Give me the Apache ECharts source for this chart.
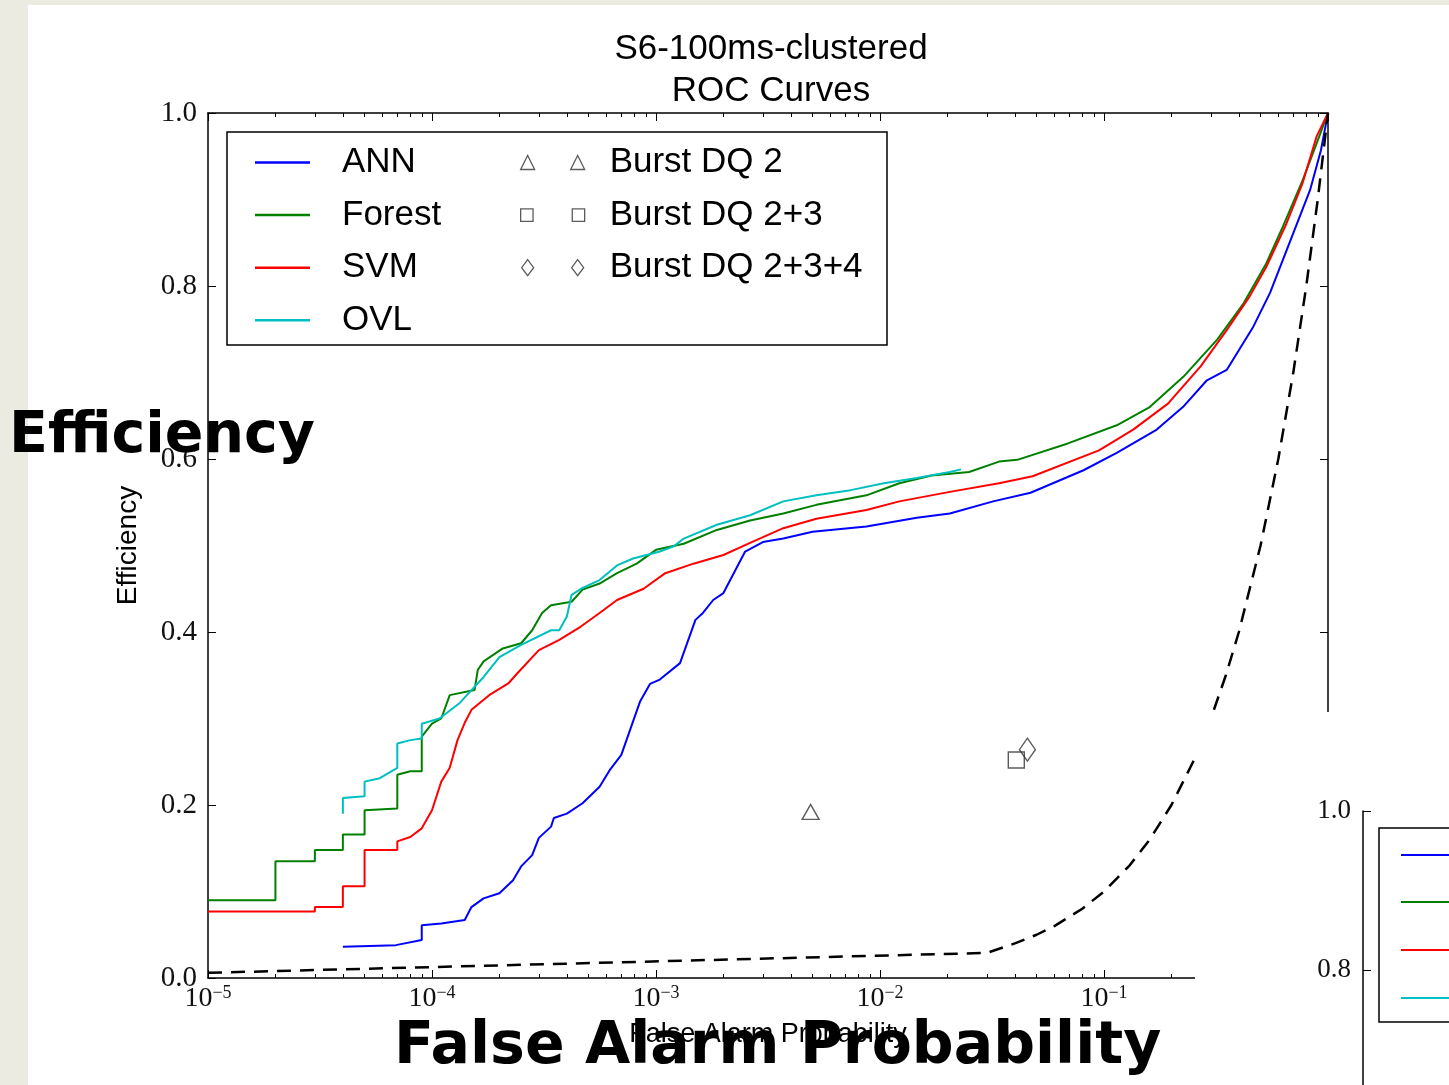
<!DOCTYPE html>
<html>
<head>
<meta charset="utf-8">
<script src="https://cdn.jsdelivr.net/npm/echarts@6/dist/echarts.min.js"></script>
<style>
  body { margin: 0; background: #ecebe1; }
  #card { position: absolute; left: 28px; top: 5px; width: 1421px; height: 1080px; background: #fff; }
  #main { position: absolute; left: 0; top: 0; width: 1449px; height: 1085px; }
</style>
</head>
<body>
<div id="card"></div>
<div id="main"></div>
<script>
// ROC curves: [false alarm probability, efficiency]
var ann = [[4.0e-5,0.036],[6.9e-5,0.038],[7.0e-5,0.040],[9.0e-5,0.044],[9.0e-5,0.061],[1.1e-4,0.063],[1.4e-4,0.067],
  [1.5e-4,0.082],[1.7e-4,0.092],[2.0e-4,0.098],[2.3e-4,0.113],[2.5e-4,0.129],[2.8e-4,0.142],[3.0e-4,0.162],
  [3.4e-4,0.175],[3.5e-4,0.185],[4.0e-4,0.19],[4.7e-4,0.202],[5.6e-4,0.221],[6.2e-4,0.24],[7.0e-4,0.258],
  [8.5e-4,0.32],[9.4e-4,0.34],[1.04e-3,0.345],[1.28e-3,0.364],[1.5e-3,0.414],[1.62e-3,0.422],[1.8e-3,0.437],
  [2.0e-3,0.445],[2.5e-3,0.493],[3.0e-3,0.504],[3.7e-3,0.508],[5.0e-3,0.516],[8.7e-3,0.522],[1.46e-2,0.532],
  [2.05e-2,0.537],[3.2e-2,0.551],[4.7e-2,0.561],[8.1e-2,0.587],[0.114,0.607],[0.172,0.634],[0.225,0.66],
  [0.288,0.691],[0.353,0.703],[0.464,0.753],[0.551,0.792],[0.70,0.861],[0.832,0.911],[0.93,0.957],[1.0,1.0]];
var forest = [[1e-5,0.09],[2.0e-5,0.09],[2.0e-5,0.135],[3.0e-5,0.135],[3.0e-5,0.148],[4.0e-5,0.148],[4.0e-5,0.166],
  [5.0e-5,0.166],[5.0e-5,0.194],[7.0e-5,0.196],[7.0e-5,0.235],[8.0e-5,0.239],[9.0e-5,0.239],[9.0e-5,0.279],
  [1.0e-4,0.294],[1.1e-4,0.3],[1.2e-4,0.327],[1.55e-4,0.333],[1.6e-4,0.356],[1.7e-4,0.366],[2.07e-4,0.381],
  [2.5e-4,0.387],[2.8e-4,0.402],[3.1e-4,0.422],[3.4e-4,0.431],[4.2e-4,0.435],[4.7e-4,0.449],[5.6e-4,0.456],
  [6.7e-4,0.468],[8.2e-4,0.479],[1.0e-3,0.495],[1.33e-3,0.502],[1.87e-3,0.518],[2.63e-3,0.529],[3.7e-3,0.537],
  [5.2e-3,0.547],[8.7e-3,0.558],[1.22e-2,0.572],[1.7e-2,0.581],[2.5e-2,0.585],[3.4e-2,0.597],[4.1e-2,0.599],
  [6.9e-2,0.618],[0.114,0.639],[0.16,0.66],[0.226,0.695],[0.32,0.738],[0.42,0.78],[0.53,0.826],[0.62,0.865],
  [0.77,0.922],[0.89,0.965],[1.0,1.0]];
var svm = [[1e-5,0.077],[3.0e-5,0.077],[3.0e-5,0.082],[4.0e-5,0.082],[4.0e-5,0.106],[5.0e-5,0.106],[5.0e-5,0.148],
  [7.0e-5,0.148],[7.0e-5,0.158],[8.0e-5,0.163],[9.0e-5,0.173],[1.0e-4,0.194],[1.1e-4,0.227],[1.2e-4,0.243],
  [1.3e-4,0.275],[1.4e-4,0.295],[1.5e-4,0.31],[1.8e-4,0.327],[2.2e-4,0.341],[2.4e-4,0.352],[3.0e-4,0.379],
  [3.7e-4,0.391],[4.6e-4,0.406],[5.6e-4,0.422],[6.7e-4,0.437],[8.8e-4,0.45],[1.1e-3,0.468],[1.47e-3,0.479],
  [2.0e-3,0.489],[2.63e-3,0.503],[3.7e-3,0.52],[5.2e-3,0.531],[8.7e-3,0.541],[1.22e-2,0.551],[2.05e-2,0.562],
  [3.4e-2,0.572],[4.8e-2,0.58],[0.095,0.61],[0.135,0.634],[0.193,0.664],[0.27,0.707],[0.353,0.749],
  [0.447,0.788],[0.53,0.822],[0.652,0.872],[0.77,0.919],[0.89,0.973],[1.0,1.0]];
var ovl = [[4.0e-5,0.19],[4.0e-5,0.208],[5.0e-5,0.21],[5.0e-5,0.227],[5.85e-5,0.231],[7.0e-5,0.243],[7.0e-5,0.271],
  [8.0e-5,0.275],[9.0e-5,0.277],[9.0e-5,0.294],[1.08e-4,0.3],[1.33e-4,0.318],[1.7e-4,0.348],[2.0e-4,0.371],
  [2.5e-4,0.385],[3.4e-4,0.402],[3.7e-4,0.402],[4.0e-4,0.418],[4.2e-4,0.443],[4.7e-4,0.451],[5.6e-4,0.46],
  [6.7e-4,0.477],[7.9e-4,0.485],[1.04e-3,0.493],[1.2e-3,0.499],[1.33e-3,0.508],[1.87e-3,0.524],[2.63e-3,0.535],
  [3.7e-3,0.551],[5.2e-3,0.558],[7.4e-3,0.564],[1.04e-2,0.572],[1.46e-2,0.578],[2.05e-2,0.585],[2.3e-2,0.588]];
// chance line (dashed)
var chance = [[1e-5,0.006],[0.03,0.029],[0.04,0.04],[0.05,0.05],[0.06,0.06],[0.08,0.08],[0.1,0.1],[0.13,0.13],
  [0.16,0.16],[0.2,0.2],[0.25,0.25],[0.3,0.3],[0.35,0.35],[0.4,0.4],[0.5,0.5],[0.6,0.6],[0.7,0.7],[0.8,0.8],
  [0.9,0.9],[1.0,1.0]];
// Burst DQ points
var dq2 = [[0.0049,0.192]];
var dq23 = [[0.0406,0.252]];
var dq234 = [[0.0455,0.264]];

// ticks
var xMajor = [1e-5,1e-4,1e-3,1e-2,1e-1,1];
var xExp = ['\u22125','\u22124','\u22123','\u22122','\u22121','0'];
var xMinor = [2e-5,3e-5,4e-5,5e-5,6e-5,7e-5,8e-5,9e-5,2e-4,3e-4,4e-4,5e-4,6e-4,7e-4,8e-4,9e-4,
  2e-3,3e-3,4e-3,5e-3,6e-3,7e-3,8e-3,9e-3,2e-2,3e-2,4e-2,5e-2,6e-2,7e-2,8e-2,9e-2,
  0.2,0.3,0.4,0.5,0.6,0.7,0.8,0.9];
var yTicks = ['0.0','0.2','0.4','0.6','0.8','1.0'];

var serif = '"Liberation Serif", "DejaVu Serif", serif';
var sans = '"Liberation Sans", Arial, sans-serif';

var chart = echarts.init(document.getElementById('main'));

function logAxis(grid, pos, ticks, len, label, line) {
  return {
    type: 'log', logBase: 10, min: 1e-5, max: 1, gridIndex: grid, position: pos,
    axisLine: { show: line, lineStyle: { color: '#000', width: 1.5 } },
    axisTick: { show: true, inside: true, length: len, customValues: ticks, lineStyle: { color: '#000', width: 1 } },
    axisLabel: label ? {
      show: true, margin: 6, customValues: xMajor,
      formatter: function (v) {
        var i = xMajor.indexOf(v);
        return '{b|10}{s|' + xExp[i] + '}';
      },
      rich: {
        b: { fontFamily: serif, fontSize: 28, color: '#111', lineHeight: 30 },
        s: { fontFamily: serif, fontSize: 18, color: '#111', verticalAlign: 'top', lineHeight: 18 }
      }
    } : { show: false },
    splitLine: { show: false }
  };
}

function valAxis(grid, pos, labels, z) {
  return {
    type: 'value', min: 0, max: 1, interval: 0.2, gridIndex: grid, position: pos, z: z || 0,
    axisLine: { show: true, lineStyle: { color: '#000', width: 1.5 } },
    axisTick: { show: true, inside: true, length: 8, lineStyle: { color: '#000', width: 1 } },
    axisLabel: labels ? {
      show: true, margin: 11, fontFamily: serif, fontSize: 29, color: '#111',
      formatter: function (v) { return yTicks[Math.round(v / 0.2)]; }
    } : { show: false },
    splitLine: { show: false }
  };
}

var lineSeries = function (name, data, color) {
  return {
    name: name, type: 'line', data: data, symbol: 'none', showSymbol: false,
    lineStyle: { color: color, width: 2 }, itemStyle: { color: color }, z: 3
  };
};
var pointSeries = function (name, data, symbol, size) {
  return {
    name: name, type: 'scatter', data: data, symbol: symbol, symbolSize: size,
    itemStyle: { color: 'rgba(0,0,0,0)', borderColor: '#333', borderWidth: 1.4 }, z: 4
  };
};

var yName = valAxis(0, 'left', true);
yName.name = 'Efficiency';
yName.nameLocation = 'middle';
yName.nameGap = 66;
yName.nameTextStyle = { fontFamily: sans, fontSize: 28, color: '#000' };

var xMain = logAxis(0, 'bottom', xMajor, 8, true, true);
xMain.name = 'False Alarm Probability';
xMain.nameLocation = 'middle';
xMain.nameGap = 43;
xMain.nameTextStyle = { fontFamily: sans, fontSize: 27, color: '#000' };

// second (partly hidden) chart of the next slide layer
var x2 = logAxis(1, 'top', [2e-5], 5, false, true); x2.z = 60;
var y2 = valAxis(1, 'left', true, 60); y2.axisLabel.fontSize = 27; y2.axisLabel.margin = 12;

var option = {
  animation: false,
  title: {
    text: 'S6-100ms-clustered\nROC Curves', left: 766, top: 23, textAlign: 'center',
    textStyle: { fontFamily: sans, fontSize: 35, lineHeight: 42, fontWeight: 'normal', color: '#000' }
  },
  grid: [
    { left: 208, top: 113, width: 1120, height: 865, outerBoundsMode: 'none' },
    { left: 1363, top: 811, width: 1030, height: 796, outerBoundsMode: 'none' }
  ],
  xAxis: [
    xMain,
    logAxis(0, 'bottom', xMinor, 4, false, false),
    logAxis(0, 'top', xMajor, 8, false, true),
    logAxis(0, 'top', xMinor, 4, false, false),
    x2
  ],
  yAxis: [
    yName,
    valAxis(0, 'right', false),
    y2
  ],
  legend: [
    {
      left: 250, top: 140, orient: 'vertical', itemGap: 17.6, itemWidth: 55, itemHeight: 2.5, z: 10,
      data: [
        { name: 'ANN', icon: 'rect' }, { name: 'Forest', icon: 'rect' },
        { name: 'SVM', icon: 'rect' }, { name: 'OVL', icon: 'rect' }
      ],
      textStyle: { fontFamily: sans, fontSize: 35, lineHeight: 35, color: '#000', padding: [0, 0, 0, 27] }
    },
    {
      left: 515, top: 140, orient: 'vertical', itemGap: 17.6, itemWidth: 64, itemHeight: 16, z: 10,
      itemStyle: { color: 'rgba(0,0,0,0)', borderColor: '#333', borderWidth: 1.3 },
      data: [
        { name: 'Burst DQ 2', icon: 'path://M0,14L7,0L14,14ZM50,14L57,0L64,14Z' },
        { name: 'Burst DQ 2+3', icon: 'path://M1,1H13V13H1ZM51,1H63V13H51Z' },
        { name: 'Burst DQ 2+3+4', icon: 'path://M7,0L13,8L7,16L1,8ZM57,0L63,8L57,16L51,8Z' }
      ],
      textStyle: { fontFamily: sans, fontSize: 35, lineHeight: 35, color: '#000', padding: [0, 0, 0, 20] }
    }
  ],
  series: [
    lineSeries('ANN', ann, '#0000ff'),
    lineSeries('Forest', forest, '#008000'),
    lineSeries('SVM', svm, '#ff0000'),
    lineSeries('OVL', ovl, '#00bfbf'),
    {
      name: 'chance', type: 'line', data: chance, symbol: 'none', z: 3,
      lineStyle: { color: '#000', width: 2.5, type: [14, 9] }
    },
    pointSeries('Burst DQ 2', dq2, 'triangle', [17, 15]),
    pointSeries('Burst DQ 2+3', dq23, 'rect', [16, 16]),
    pointSeries('Burst DQ 2+3+4', dq234, 'diamond', [16, 23])
  ],
  graphic: [
    // legend frame
    { type: 'rect', z: 9, shape: { x: 227, y: 132, width: 660, height: 213 },
      style: { fill: '#fff', stroke: '#000', lineWidth: 1.5 } },
    // slide overlay: the next figure on top of this one
    { type: 'rect', z: 50, shape: { x: 1195, y: 712, width: 260, height: 380 }, style: { fill: '#fff' } },
    { type: 'rect', z: 70, shape: { x: 1379, y: 828, width: 200, height: 194 },
      style: { fill: '#fff', stroke: '#000', lineWidth: 1.5 } },
    { type: 'line', z: 71, shape: { x1: 1401, y1: 855, x2: 1460, y2: 855 }, style: { stroke: '#0000ff', lineWidth: 2 } },
    { type: 'line', z: 71, shape: { x1: 1401, y1: 902, x2: 1460, y2: 902 }, style: { stroke: '#008000', lineWidth: 2 } },
    { type: 'line', z: 71, shape: { x1: 1401, y1: 950, x2: 1460, y2: 950 }, style: { stroke: '#ff0000', lineWidth: 2 } },
    { type: 'line', z: 71, shape: { x1: 1401, y1: 998, x2: 1460, y2: 998 }, style: { stroke: '#00bfbf', lineWidth: 2 } },
    // slide captions
    { type: 'text', z: 100, x: 9, y: 437,
      style: { text: 'Efficiency', fill: '#000', font: 'bold 57px "DejaVu Sans"', verticalAlign: 'middle' } },
    { type: 'text', z: 100, x: 394, y: 1048,
      style: { text: 'False Alarm Probability', fill: '#000', font: 'bold 58.5px "DejaVu Sans"', verticalAlign: 'middle' } }
  ]
};
chart.setOption(option);
</script>
</body>
</html>
